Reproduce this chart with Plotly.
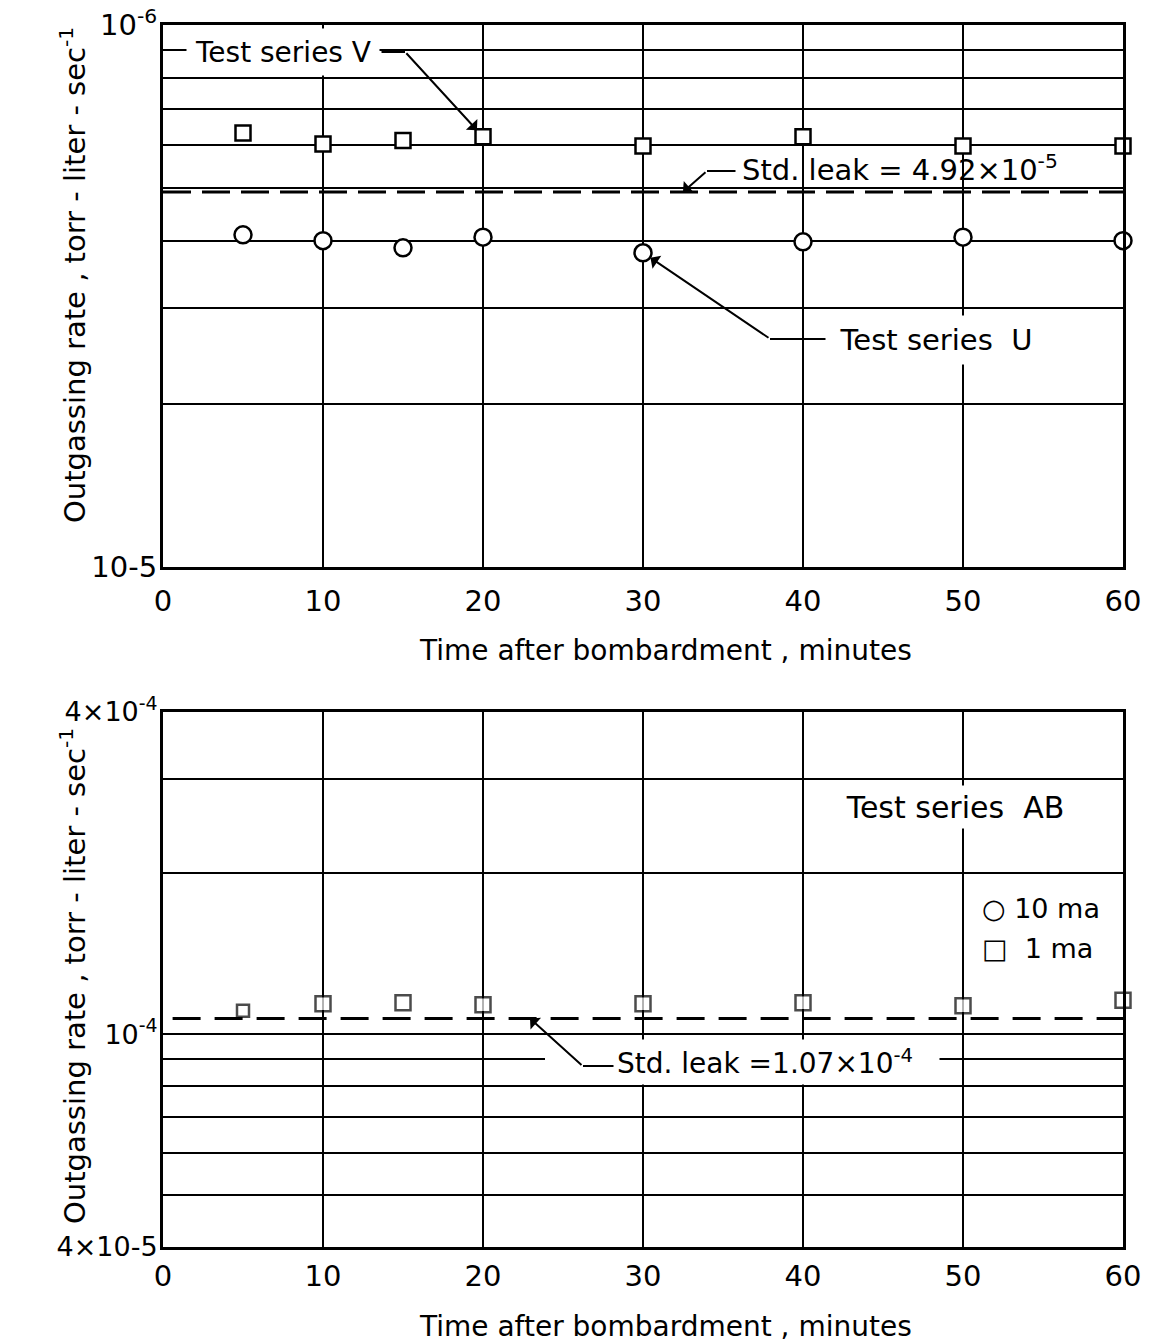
import math
import plotly.graph_objects as go

W, H = 1153, 1342

# ---------------- data ----------------
time_min = [5, 10, 15, 20, 30, 40, 50, 60]
series_V = [6.32e-5, 6.03e-5, 6.12e-5, 6.22e-5, 5.98e-5, 6.22e-5, 5.98e-5, 5.98e-5]
series_U = [4.10e-5, 4.00e-5, 3.88e-5, 4.06e-5, 3.80e-5, 3.98e-5, 4.06e-5, 4.00e-5]
series_AB_1ma = [1.106e-4, 1.14e-4, 1.145e-4, 1.135e-4, 1.14e-4, 1.145e-4, 1.13e-4, 1.157e-4]
std_leak_top = 4.92e-5
std_leak_bottom = 1.07e-4

x_ticks = [0, 10, 20, 30, 40, 50, 60]
x_ticktext = ["0", "10", "20", "30", "40", "50", "60"]

top_yticks = [1e-5, 2e-5, 3e-5, 4e-5, 5e-5, 6e-5, 7e-5, 8e-5, 9e-5, 1e-4]
top_yticktext = ["10-5", "", "", "", "", "", "", "", "", "10<sup>-6</sup>"]

bot_yticks = [4e-5, 5e-5, 6e-5, 7e-5, 8e-5, 9e-5, 1e-4, 2e-4, 3e-4, 4e-4]
bot_yticktext = ["4×10-5", "", "", "", "", "", "10<sup>-4</sup>", "", "", "4×10<sup>-4</sup>"]

y_title = "Outgassing rate , torr - liter - sec<sup>-1</sup>"
x_title = "Time after bombardment , minutes"

FONT = "DejaVu Sans"
BLACK = "black"

fig = go.Figure()

# top panel
fig.add_trace(go.Scatter(x=[0, 60], y=[std_leak_top, std_leak_top], mode="lines",
                         line=dict(color=BLACK, width=3, dash="28px,11px"),
                         xaxis="x", yaxis="y", showlegend=False, hoverinfo="skip"))
fig.add_trace(go.Scatter(x=time_min, y=series_V, mode="markers", cliponaxis=False,
                         marker=dict(symbol="square", size=15, color="white",
                                     line=dict(color=BLACK, width=2.5)),
                         xaxis="x", yaxis="y", showlegend=False))
fig.add_trace(go.Scatter(x=time_min, y=series_U, mode="markers", cliponaxis=False,
                         marker=dict(symbol="circle", size=17, color="white",
                                     line=dict(color=BLACK, width=2.5)),
                         xaxis="x", yaxis="y", showlegend=False))

# bottom panel
fig.add_trace(go.Scatter(x=[0.6, 60], y=[std_leak_bottom, std_leak_bottom], mode="lines",
                         line=dict(color=BLACK, width=3, dash="28px,14px"),
                         xaxis="x2", yaxis="y2", showlegend=False, hoverinfo="skip"))
fig.add_trace(go.Scatter(x=time_min, y=series_AB_1ma, mode="markers", cliponaxis=False,
                         marker=dict(symbol="square", size=[12, 15, 15, 15, 15, 15, 15, 15],
                                     color="white", line=dict(color=BLACK, width=2.5)),
                         xaxis="x2", yaxis="y2", showlegend=False))

xdom = [163 / W, 1123 / W]
top_dom = [1 - 567 / H, 1 - 25 / H]
bot_dom = [1 - 1247 / H, 1 - 712 / H]

axis_common = dict(showline=True, linecolor=BLACK, linewidth=3, mirror=True,
                   showgrid=True, gridcolor=BLACK, gridwidth=2, zeroline=False,
                   automargin=False, ticks="")
tick29 = dict(family=FONT, size=29, color=BLACK)
tick27 = dict(family=FONT, size=27, color=BLACK)

fig.update_layout(
    width=W, height=H, margin=dict(l=0, r=0, t=0, b=0, autoexpand=False),
    paper_bgcolor="white", plot_bgcolor="white",
    font=dict(family=FONT, color=BLACK),
    xaxis=dict(domain=xdom, range=[0, 60], tickvals=x_ticks, ticktext=x_ticktext,
               anchor="y", ticklabelstandoff=6, tickfont=tick29, **axis_common),
    yaxis=dict(domain=top_dom, type="log", range=[-5, -4], tickvals=top_yticks,
               ticktext=top_yticktext, anchor="x", ticklabelstandoff=-3,
               tickfont=tick29, **axis_common),
    xaxis2=dict(domain=xdom, range=[0, 60], tickvals=x_ticks, ticktext=x_ticktext,
                anchor="y2", ticklabelstandoff=1, tickfont=tick29, **axis_common),
    yaxis2=dict(domain=bot_dom, type="log",
                range=[math.log10(4e-5), math.log10(4e-4)], tickvals=bot_yticks,
                ticktext=bot_yticktext, anchor="x2", ticklabelstandoff=-3,
                tickfont=tick27, **axis_common),
)


def P(px, py):
    return dict(xref="paper", yref="paper", x=px / W, y=1 - py / H)


# white patch that breaks the 9e-5 grid line left of the lower "Std. leak" label
fig.add_shape(type="rect", xref="paper", yref="paper", layer="above",
              x0=545 / W, x1=620 / W, y0=1 - 1084 / H, y1=1 - 1040 / H,
              fillcolor="white", line=dict(width=0))

TXT = dict(family=FONT, size=28, color=BLACK)
TTL = dict(family=FONT, size=28, color=BLACK)
ann = []

# axis titles
ann.append(dict(text=y_title, textangle=-90, showarrow=False, font=dict(TTL, size=29),
                xanchor="center", yanchor="middle", **P(73, 275)))
ann.append(dict(text=y_title, textangle=-90, showarrow=False, font=dict(TTL, size=29),
                xanchor="center", yanchor="middle", **P(73, 976)))
ann.append(dict(text=x_title, showarrow=False, font=TTL,
                xanchor="center", yanchor="middle", **P(665, 650)))
ann.append(dict(text=x_title, showarrow=False, font=TTL,
                xanchor="center", yanchor="middle", **P(665, 1326)))

# labels (white boxes break the grid like the original)
ann.append(dict(text="Test series V", showarrow=False, font=TXT, bgcolor="white",
                xanchor="left", yanchor="middle", width=192, height=46, align="center",
                borderpad=0, **P(186, 52)))
ann.append(dict(text="Std. leak = 4.92×10<sup>-5</sup>", showarrow=False,
                font=dict(TXT, size=29),
                xanchor="left", yanchor="middle", **P(740, 168)))
ann.append(dict(text="Test series  U", showarrow=False, font=dict(TXT, size=29),
                bgcolor="white",
                xanchor="left", yanchor="middle", width=214, height=48, align="center",
                borderpad=0, **P(828, 340)))
ann.append(dict(text="Test series  AB", showarrow=False, font=dict(TXT, size=30),
                bgcolor="white",
                xanchor="left", yanchor="middle", width=256, height=42, align="center",
                borderpad=0, **P(826, 807)))
ann.append(dict(text="○ 10 ma", showarrow=False, font=dict(TXT, size=27),
                xanchor="left", yanchor="middle", **P(980, 908)))
ann.append(dict(text="□  1 ma", showarrow=False, font=dict(TXT, size=27),
                xanchor="left", yanchor="middle", **P(980, 948)))
ann.append(dict(text="Std. leak =1.07×10<sup>-4</sup>", showarrow=False, font=TXT,
                bgcolor="white", xanchor="left", yanchor="middle", width=322, height=44,
                align="left", borderpad=0, **P(616, 1062)))

# leader lines
LW = 2
AC = BLACK
ann.append(dict(text="", showarrow=True, arrowhead=0, arrowwidth=LW, arrowcolor=AC,
                ax=-25, ay=0, **P(405, 52)))
ann.append(dict(text="", showarrow=True, arrowhead=1, arrowsize=1.3, arrowwidth=LW,
                arrowcolor=AC, xref="x", yref="y", x=time_min[3], y=math.log10(series_V[3]),
                ax=-78, ay=-85, standoff=9))
ann.append(dict(text="", showarrow=True, arrowhead=0, arrowwidth=LW, arrowcolor=AC,
                ax=30, ay=0, **P(707, 171)))
ann.append(dict(text="", showarrow=True, arrowhead=1, arrowsize=1.3, arrowwidth=LW,
                arrowcolor=AC, xref="paper", yref="y", x=683 / W,
                y=math.log10(std_leak_top), ax=24, ay=-21))
ann.append(dict(text="", showarrow=True, arrowhead=0, arrowwidth=LW, arrowcolor=AC,
                ax=57, ay=0, **P(770, 339)))
ann.append(dict(text="", showarrow=True, arrowhead=1, arrowsize=1.3, arrowwidth=LW,
                arrowcolor=AC, xref="x", yref="y", x=time_min[4], y=math.log10(series_U[4]),
                ax=127, ay=86, standoff=9))
ann.append(dict(text="", showarrow=True, arrowhead=0, arrowwidth=LW, arrowcolor=AC,
                ax=32, ay=0, **P(583, 1066)))
ann.append(dict(text="", showarrow=True, arrowhead=1, arrowsize=1.3, arrowwidth=LW,
                arrowcolor=AC, xref="paper", yref="y2", x=530 / W,
                y=math.log10(std_leak_bottom), ax=53, ay=48))

fig.update_layout(annotations=ann)
fig.write_html("out.html")
